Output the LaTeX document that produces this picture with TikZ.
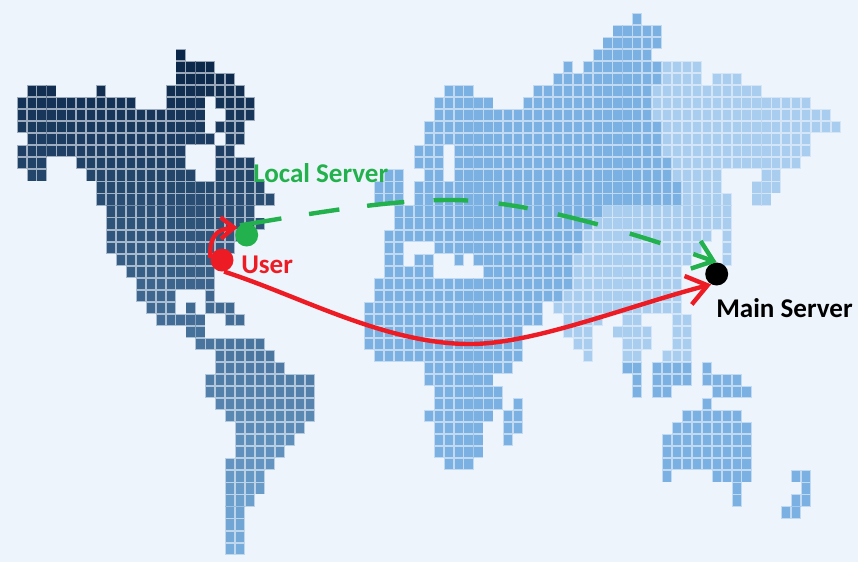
\documentclass[tikz,border=0pt]{standalone}
\usepackage{fontspec}
\setmainfont{Carlito}
\usetikzlibrary{arrows.meta,bending}
\definecolor{bgc}{HTML}{EEF4FB}
\definecolor{amT}{HTML}{0A2648}
\definecolor{amB}{HTML}{76ACDB}
\definecolor{asM}{HTML}{7AB1E2}
\definecolor{asL}{HTML}{A8CDEE}
\definecolor{redc}{HTML}{ED1C24}
\definecolor{greenc}{HTML}{22B14C}
\newcommand{\mapcell}[3]{%
  \pgfmathsetmacro{\cx}{21.7+9.93*#1}%
  \pgfmathsetmacro{\cy}{55+12.04*#2}%
  \fill[#3,opacity=.38] (\cx-5,\cy-6.05) rectangle (\cx+5,\cy+6.05);
  \fill[#3] (\cx-4.1,\cy-5.1) rectangle (\cx+4.1,\cy+5.1);
}
\tikzset{
  sitedot/.style={circle,inner sep=0pt,minimum size=17.25pt},
  sitelabel/.style={anchor=base west,inner sep=0pt,font=\fontsize{20.3}{22}\selectfont\bfseries},
  link/.style={line width=3.3pt},
}
\begin{document}
\begin{tikzpicture}[x=.75pt,y=-.75pt]
\useasboundingbox (0,0) rectangle (858,562);
\fill[bgc] (0,0) rectangle (858,562);
% Americas
\foreach \r/\rs in {
 0/{16/16},1/{16/19},2/{16/21},3/{1/3,8/8,15/22},4/{0/11,15/18,20/23},
 5/{0/18,21/23},6/{0/18,20/22},7/{1/19,21/22},8/{0/16,20/21},9/{0/2,6/16,20/23},
 10/{1/2,7/17,20/23},11/{8/24},12/{8/25},13/{9/23},14/{9/24},15/{9/23},16/{9/21},
 17/{10/19},18/{11/19},19/{12/19},20/{12/15,19/19},21/{13/15,17/17,19/21},
 22/{14/18,21/22},23/{17/18},24/{18/24},25/{20/25},26/{20/26},27/{19/29},28/{19/29},
 29/{20/29},30/{21/29},31/{22/28},32/{22/27},33/{22/26},34/{21/25},35/{21/24},
 36/{21/24},37/{21/23},38/{21/22},39/{21/22},40/{21/22},41/{21/22}}{
  \pgfmathtruncatemacro{\pp}{100*\r/41}
  \colorlet{cellc}{amB!\pp!amT}
  \foreach \a/\z in \rs {
    \foreach \c in {\a,...,\z} { \mapcell{\c}{\r}{cellc} }
  }
}
% Eurasia, Africa, Australia
\foreach \r/\b/\rs in {
 -3/999/{62/62},-2/999/{60/64},-1/999/{59/64},0/999/{58/63},1/65/{55/55,57/68},
 2/65/{54/68,70/72},3/64/{43/45,52/74},4/64/{42/47,51/79},5/64/{42/81},6/65/{41/82},
 7/65/{41/79},8/65/{40/42,44/79},9/66/{40/42,44/78},10/66/{37/38,41/42,44/70,75/76},
 11/67/{36/38,40/70,74/76},12/67/{36/38,40/71,74/75},13/59/{38/71},14/58/{38/71},
 15/57/{37/69,71/71},16/57/{37/38,42/68,71/71},17/56/{37/38,40/41,44/44,46/67,71/71},
 18/56/{37/41,47/66},19/56/{36/66},20/55/{36/66},21/54/{35/52,54/66},
 22/55/{35/52,55/58,61/62,66/67},23/55/{35/50,55/57,60/63,66/67},
 24/55/{35/50,56/57,61/63,66/67},25/55/{36/50,57/57,61/62,65/67},
 26/999/{41/49,61/62,64/67,69/69},27/999/{41/47,62/62,64/67,69/72},
 28/999/{42/48,62/62,64/65,70/73},29/999/{42/48,50/50,69/69},
 30/999/{41/47,49/50,67/72},31/999/{42/46,49/50,66/73},32/999/{42/46,49/49,65/73},
 33/999/{42/46,65/73},34/999/{43/45,65/73},35/999/{65/65,70/73,78/79},
 36/999/{72/72,79/79},37/999/{72/72,78/79},38/999/{77/78}}{
  \foreach \a/\z in \rs {
    \foreach \c in {\a,...,\z} {
      \ifnum\c<\b\relax \mapcell{\c}{\r}{asM}\else \mapcell{\c}{\r}{asL}\fi
    }
  }
}
% sites
\node[sitedot,fill=redc] (user) at (222,260) {};
\node[sitedot,fill=greenc] (local) at (246.7,235) {};
\node[sitedot,fill=black] (main) at (716.7,274) {};
\coordinate (redlow) at (470,344);
\coordinate (greentop) at (450,200);
% connectors
\draw[link,draw=greenc,dash pattern=on 31.5pt off 21pt on 23pt off 21pt on 28pt off 22pt on 26pt off 23pt on 22pt off 23pt on 31pt off 25pt on 24pt off 26pt on 24pt,
  -{Straight Barb[length=14pt,width=22pt,line width=3.3pt,flex=0]}]
  (local.125) .. controls (320,212) and (390,200) .. (greentop)
  .. controls (530,200) and (640,235) .. (main.90);
\draw[link,draw=redc,-{Straight Barb[length=15pt,width=22pt,line width=3.3pt,flex=0]}]
  (user.280) .. controls (300,296) and (385,344) .. (redlow)
  .. controls (535,344) and (630,305) .. (main.242);
\draw[link,draw=redc,-{Straight Barb[length=10pt,width=16pt,line width=3.3pt,flex=0]}]
  (user.170) .. controls (209,232) and (220,228) .. (local.141);
% labels
\node[sitelabel,text=greenc] (locallabel) at (253,182) {Local Server};
\node[sitelabel,text=redc] (userlabel) at (241,273) {User};
\node[sitelabel,text=black] (mainlabel) at (716,317) {Main Server};
\end{tikzpicture}
\end{document}
